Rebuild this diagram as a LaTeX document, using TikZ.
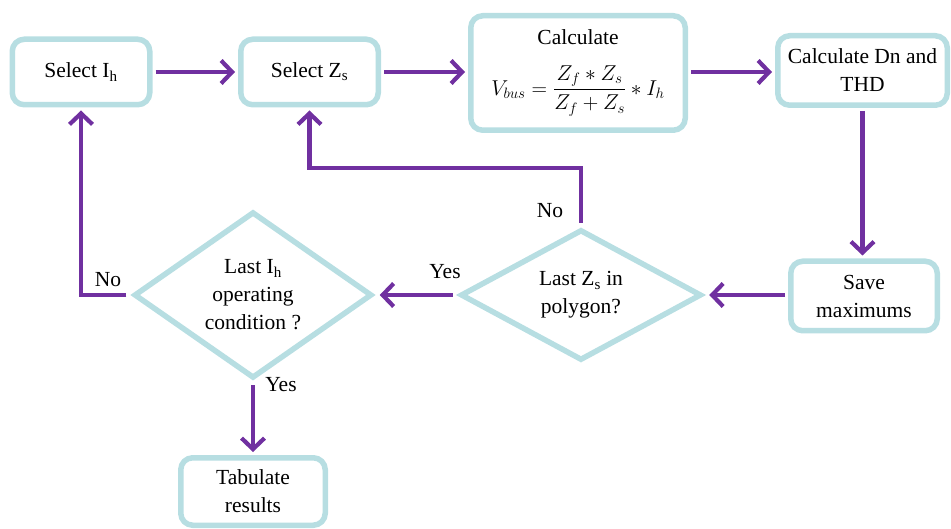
\documentclass[tikz,border=0pt]{standalone}
\usepackage{fix-cm}
\usepackage{amsmath}
\usepackage{fontspec}
\setmainfont{Liberation Serif}
\usetikzlibrary{arrows.meta,shapes.geometric}
\definecolor{boxc}{RGB}{183,222,226}
\definecolor{arrc}{RGB}{112,48,160}
\newcommand\figfont{\fontsize{21.5}{28}\selectfont}
\tikzset{
  box/.style={draw=boxc, line width=5.5pt, rounded corners=12pt, fill=white, inner sep=0pt, align=center, font=\figfont},
  dec/.style={diamond, draw=boxc, line width=5.5pt, fill=white, inner sep=0pt, align=center, font=\figfont},
  arr/.style={draw=arrc, line width=4.2pt, -{Straight Barb[length=11pt,width=23pt]}, shorten >=3pt, shorten <=3pt},
  lbl/.style={font=\figfont, inner sep=0pt}
}
\begin{document}
\begin{tikzpicture}[x=1pt,y=-1pt]
\useasboundingbox (0,0) rectangle (951,529);
\node[box, minimum width=137.5pt, minimum height=65.5pt] (b1) at (81,72) {Select I\textsubscript{h}};
\node[box, minimum width=137.5pt, minimum height=65.5pt] (b2) at (309.5,72) {Select Z\textsubscript{s}};
\node[box, minimum width=214.5pt, minimum height=114.5pt] (b3) at (578,73) {Calculate\\[20pt]$\displaystyle V_{bus}=\frac{Z_f * Z_s}{Z_f+Z_s}*I_h$};
\node[box, minimum width=169.5pt, minimum height=69.5pt] (b4) at (862.5,70.5) {Calculate Dn and\\THD};
\node[box, minimum width=146.5pt, minimum height=69.5pt] (b5) at (864,296) {Save\\maximums};
\node[box, minimum width=144.5pt, minimum height=67.5pt] (b6) at (253,491.5) {Tabulate\\results};
\node[dec, minimum width=238pt, minimum height=137pt] (d1) at (253,295) {Last I\textsubscript{h}\\operating\\condition ?};
\node[dec, minimum width=241pt, minimum height=127pt] (d2) at (581,295) {Last Z\textsubscript{s} in\\polygon?};
\coordinate (k1) at (0,168);
\draw[arr] (b1.east) -- (b2.west);
\draw[arr] (b2.east) -- (b3.west |- b2.east);
\draw[arr] (b3.east |- b2.east) -- (b4.west |- b2.east);
\draw[arr] (b4.south) -- (b4.south |- b5.north);
\draw[arr, shorten >=5pt] (b5.west |- d2.east) -- (d2.east);
\draw[arr, shorten <=4pt] (d2.north) -- (d2.north |- k1) -| (b2.south);
\draw[arr, shorten <=5pt, shorten >=5pt] (d2.west) -- (d1.east);
\draw[arr, shorten <=5pt] (d1.west) -| (b1.south);
\draw[arr, shorten <=4pt] (d1.south) -- (b6.north);
\node[lbl] (n1) at (550,211) {No};
\node[lbl] (y1) at (445,272) {Yes};
\node[lbl] (n2) at (108,280) {No};
\node[lbl] (y2) at (281,385) {Yes};
\end{tikzpicture}
\end{document}
